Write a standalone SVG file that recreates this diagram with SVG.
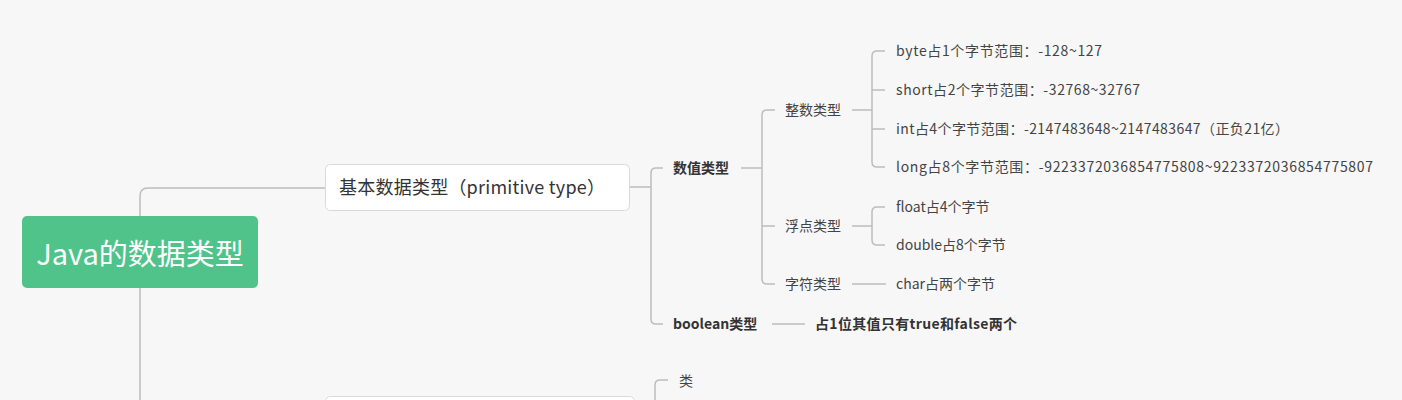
<svg xmlns="http://www.w3.org/2000/svg" width="1402" height="400" viewBox="0 0 1402 400">
<style>
.bg{fill:#f7f7f7}
.ln{fill:none;stroke:#bdbdbd;stroke-width:1.5}
.t{font-family:"Noto Sans CJK SC","Microsoft YaHei",sans-serif;fill:#444;font-size:14px}
.b{font-weight:bold;fill:#333}
.box{fill:#fff;stroke:#d9d9d9;stroke-width:1}
</style>
<rect class="bg" x="0" y="0" width="1402" height="400"/>
<g id="connectors">
<path class="ln" d="M140,216 V196 Q140,188 148,188 H325"/>
<path class="ln" d="M140,288 V400"/>
<path class="ln" d="M629,187 H651"/>
<path class="ln" d="M663,168 H656 Q651,168 651,173 V319 Q651,324 656,324 H663"/>
<path class="ln" d="M741,168 H762"/>
<path class="ln" d="M775,110 H767 Q762,110 762,115 V279 Q762,284 767,284 H775"/>
<path class="ln" d="M762,226 H775"/>
<path class="ln" d="M852,110 H872"/>
<path class="ln" d="M885,51 H877 Q872,51 872,56 V162 Q872,167 877,167 H885"/>
<path class="ln" d="M872,90 H885"/>
<path class="ln" d="M872,129 H885"/>
<path class="ln" d="M852,226 H872"/>
<path class="ln" d="M885,207 H877 Q872,207 872,212 V240 Q872,245 877,245 H885"/>
<path class="ln" d="M852,284 H886"/>
<path class="ln" d="M772,324 H805"/>
<path class="ln" d="M668,380 H660 Q655,380 655,385 V400"/>
</g>
<g id="root">
<rect x="22" y="216" width="236" height="72" rx="5" fill="#50c38a"/>
<text class="t" x="140" y="265" style="font-size:29px;fill:#fff" text-anchor="middle">Java的数据类型</text>
</g>
<g id="primitive">
<rect class="box" x="325.5" y="164.5" width="304" height="46" rx="5"/>
<text class="t" x="339" y="194" style="font-size:18px;fill:#333" textLength="266" lengthAdjust="spacing">基本数据类型（primitive type）</text>
</g>
<g id="reference">
<rect class="box" x="325.5" y="396.5" width="309" height="46" rx="5"/>
</g>
<g id="numeric"><text class="t b" x="673" y="173">数值类型</text></g>
<g id="boolean"><text class="t b" x="673" y="329">boolean类型</text></g>
<g id="boolean-val"><text class="t b" x="815" y="329" textLength="202" lengthAdjust="spacing">占1位其值只有true和false两个</text></g>
<g id="integer"><text class="t" x="785" y="115">整数类型</text></g>
<g id="float"><text class="t" x="785" y="231">浮点类型</text></g>
<g id="char"><text class="t" x="785" y="289">字符类型</text></g>
<g id="byte"><text class="t" x="896" y="56" textLength="206" lengthAdjust="spacing">byte占1个字节范围：-128~127</text></g>
<g id="short"><text class="t" x="896" y="95" textLength="244" lengthAdjust="spacing">short占2个字节范围：-32768~32767</text></g>
<g id="int"><text class="t" x="896" y="134" textLength="393" lengthAdjust="spacing">int占4个字节范围：-2147483648~2147483647（正负21亿）</text></g>
<g id="long"><text class="t" x="896" y="172" textLength="477" lengthAdjust="spacing">long占8个字节范围：-9223372036854775808~9223372036854775807</text></g>
<g id="float4"><text class="t" x="896" y="212">float占4个字节</text></g>
<g id="double8"><text class="t" x="896" y="250">double占8个字节</text></g>
<g id="char2"><text class="t" x="896" y="289">char占两个字节</text></g>
<g id="class"><text class="t" x="679" y="386">类</text></g>
</svg>
